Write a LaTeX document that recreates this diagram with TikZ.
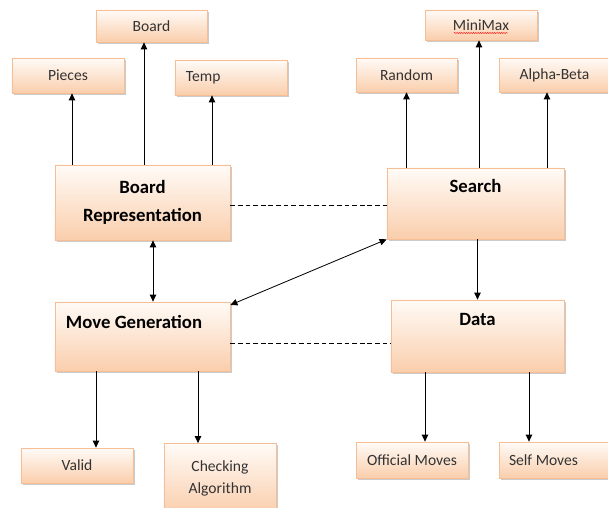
\documentclass[tikz,border=0pt]{standalone}
\usepackage{fontspec}
\setmainfont{Carlito}
\usetikzlibrary{arrows.meta,shadows,calc,decorations.pathmorphing}

\definecolor{boxtop}{RGB}{255,251,247}
\definecolor{boxbot}{RGB}{250,206,172}
\definecolor{boxline}{RGB}{247,190,150}

\tikzset{
  box/.style={draw=boxline, line width=0.6pt, top color=boxtop, bottom color=boxbot,
    drop shadow={shadow xshift=0.05cm, shadow yshift=-0.06cm, fill=black!40, opacity=0.5},
    inner sep=0pt, align=center, text=black!80, font=\fontsize{13.3}{19.5}\selectfont},
  bigbox/.style={box, text=black, font=\bfseries\fontsize{16}{24}\selectfont},
  leftbox/.style={box, align=flush left, inner xsep=0.33cm},
  peer/.style={line width=0.6pt, dash pattern=on 4pt off 2.5pt}
}

\begin{document}
\begin{tikzpicture}[x=0.03cm,y=-0.03cm, line width=0.7pt, >={Triangle[length=6pt,width=5.5pt]}]
\fill[white] (0,0) rectangle (608,508);
\useasboundingbox (0,0) rectangle (608,508);

% board side
\node[box, minimum width=3.33cm, minimum height=0.96cm] (board) at (151.5,26) {Board};
\node[box, minimum width=3.36cm, minimum height=1.05cm] (pieces) at (68,75.5) {Pieces};
\node[leftbox, text width=2.7cm, minimum height=1.05cm] (temp) at (231,77.5) {Temp};
\node[bigbox, minimum width=5.25cm, minimum height=2.25cm] (boardrep) at (142.5,202.5) {Board\\Representation};

% search side
\node[box, minimum width=3.36cm, minimum height=0.9cm] (minimax) at (481,25) {MiniMax};
\node[box, minimum width=3.03cm, minimum height=1.02cm] (random) at (406.5,75) {Random};
\node[box, minimum width=3.33cm, minimum height=1.02cm] (alphabeta) at (554.5,75) {Alpha-Beta};
\node[bigbox, minimum width=5.31cm, minimum height=2.13cm, text height=10pt, text depth=28pt] (search) at (475.5,203.5) {Search};

% lower row
\node[bigbox, align=flush left, inner xsep=0.33cm, text width=4.59cm, minimum height=2.07cm, text height=10pt, text depth=23pt] (movegen) at (142.5,336.5) {Move Generation};
\node[bigbox, minimum width=5.19cm, minimum height=2.16cm, text height=10pt, text depth=28pt] (data) at (477.5,336) {Data};

\node[box, minimum width=3.36cm, minimum height=1.05cm] (valid) at (77,465.5) {Valid};
\node[box, minimum width=3.36cm, minimum height=2.1cm] (checking) at (220,478.5) {Checking\\Algorithm};
\node[box, minimum width=3.36cm, minimum height=1.08cm] (official) at (412,460) {Official Moves};
\node[leftbox, inner xsep=0.3cm, text width=2.76cm, minimum height=1.08cm] (selfmoves) at (555,460) {Self Moves};

% spell check mark
\draw[red, line width=0.4pt, decorate, decoration={snake, amplitude=0.4pt, segment length=2pt}]
  ($(minimax.center)+(-27,8)$) -- ($(minimax.center)+(27,8)$);

% arrows
\draw[->] ([xshift=0.12cm]pieces.south |- boardrep.north) -- ([xshift=0.12cm]pieces.south);
\draw[->] ([xshift=-0.225cm]board.south |- boardrep.north) -- ([xshift=-0.225cm]board.south);
\draw[->] ([xshift=-0.57cm]temp.south |- boardrep.north) -- ([xshift=-0.57cm]temp.south);
\draw[->] (random.south |- search.north) -- (random.south);
\draw[->] ([xshift=-0.06cm]minimax.south |- search.north) -- ([xshift=-0.06cm]minimax.south);
\draw[->] ([xshift=-0.225cm]alphabeta.south |- search.north) -- ([xshift=-0.225cm]alphabeta.south);

\draw[<->] ([xshift=0.315cm]boardrep.south) -- ([xshift=0.315cm]boardrep.south |- movegen.north);
\draw[<->] (search.south west) -- ([yshift=-0.1cm]movegen.north east);
\draw[->] (data.north |- search.south) -- (data.north);

\draw[peer] ([yshift=-0.1cm]boardrep.east) -- ([yshift=-0.1cm]boardrep.east -| search.west);
\draw[peer] ([yshift=-0.2cm]movegen.east) -- ([yshift=-0.2cm]movegen.east -| data.west);

\draw[->] ([xshift=0.57cm]valid.north |- movegen.south) -- ([xshift=0.57cm]valid.north);
\draw[->] ([xshift=-0.66cm]checking.north |- movegen.south) -- ([xshift=-0.66cm]checking.north);
\draw[->] ([xshift=0.39cm]official.north |- data.south) -- ([xshift=0.39cm]official.north);
\draw[->] ([xshift=-0.78cm]selfmoves.north |- data.south) -- ([xshift=-0.78cm]selfmoves.north);
\end{tikzpicture}
\end{document}
